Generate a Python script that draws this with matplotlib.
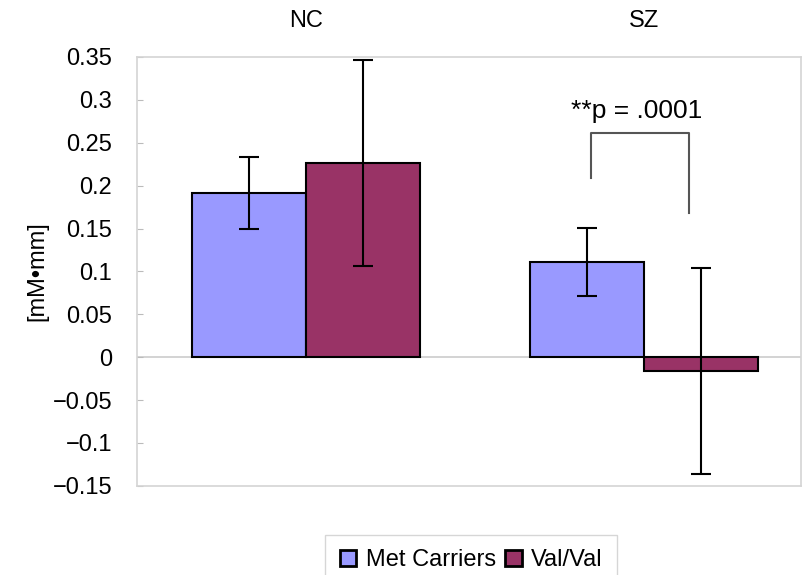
import numpy as np
import matplotlib
matplotlib.use("Agg")
import matplotlib.pyplot as plt

plt.rcParams['font.family'] = ['Liberation Sans', 'Noto Sans CJK JP', 'DejaVu Sans']

# data
groups = ['NC', 'SZ']
met_carriers = [0.191, 0.111]
met_err = [0.042, 0.040]
val_val = [0.226, -0.016]
val_err = [0.120, 0.120]
yticks = [-0.15, -0.1, -0.05, 0, 0.05, 0.1, 0.15, 0.2, 0.25, 0.3, 0.35]
yticklabels = ['\u22120.15', '\u22120.1', '\u22120.05', '0', '0.05', '0.1',
               '0.15', '0.2', '0.25', '0.3', '0.35']

fig = plt.figure(figsize=(8.02, 5.75), dpi=100)
ax = fig.add_axes([0.171, 0.155, 0.828, 0.746])

x = np.arange(len(groups))
w = 0.337
err_kw = dict(ecolor='black', elinewidth=1.5, capsize=7, capthick=1.5)
ax.bar(x - w / 2, met_carriers, w, yerr=met_err, color='#9999FF',
       edgecolor='black', linewidth=1.5, label='Met Carriers', error_kw=err_kw, zorder=3)
ax.bar(x + w / 2, val_val, w, yerr=val_err, color='#993366',
       edgecolor='black', linewidth=1.5, label='Val/Val', error_kw=err_kw, zorder=3)

ax.set_xlim(-0.5, 1.464)
ax.set_ylim(-0.15, 0.35)
ax.set_yticks(yticks)
ax.set_yticklabels(yticklabels, fontsize=17)
ax.tick_params(axis='y', direction='in', length=4, color='#bbbbbb', pad=18)
ax.set_xticks([])
ax.axhline(0, color='#cccccc', linewidth=1.2, zorder=1)
for s in ax.spines.values():
    s.set_color('#d4d4d4')
    s.set_linewidth(1.2)

ax.set_ylabel('[mM\u2022mm]', fontsize=17, labelpad=3)

# group labels on top
for xi, g in zip(x, groups):
    ax.text(xi, 1.084, g, transform=ax.get_xaxis_transform(), ha='center',
            va='center', fontsize=17)

# significance bracket
bx0, bx1 = 0.843, 1.133
ax.plot([bx0, bx0, bx1, bx1], [0.209, 0.261, 0.261, 0.168], color='#555555',
        linewidth=1.5, zorder=4)
ax.text((bx0 + bx1) / 2 - 0.01, 0.287, '**p = .0001', ha='center', va='center', fontsize=19)

leg = fig.legend(loc='upper center', bbox_to_anchor=(0.5875, 0.0696), ncol=2,
                 fontsize=17, frameon=True, fancybox=False, edgecolor='#cccccc',
                 handlelength=0.7, handleheight=0.7, handletextpad=0.4,
                 columnspacing=0.4, borderpad=0.6, borderaxespad=0)
leg.get_frame().set_linewidth(1.0)
for h in leg.legend_handles:
    h.set_linewidth(2)

fig.savefig('out.png', dpi=100)
